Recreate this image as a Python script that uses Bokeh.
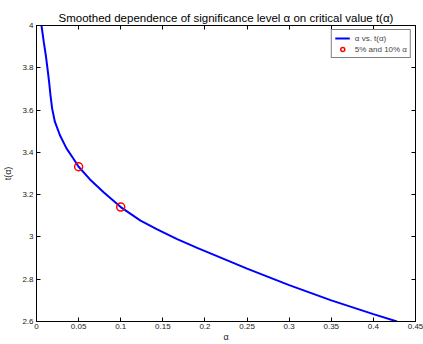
from bokeh.plotting import figure
from bokeh.models import LinearAxis, FixedTicker, Legend, LegendItem, Range1d
from bokeh.embed import file_html
from bokeh.resources import INLINE

# curve data
alpha = [0.0059, 0.0087, 0.0111, 0.0131, 0.0150, 0.0166, 0.0186, 0.0218, 0.0277,
         0.0356, 0.0435, 0.0500, 0.0635, 0.0800, 0.1000, 0.1235, 0.1433, 0.1670,
         0.1908, 0.2165, 0.2500, 0.3000, 0.3500, 0.4000, 0.4280]
t_alpha = [4.000, 3.920, 3.858, 3.795, 3.732, 3.670, 3.607, 3.545, 3.482,
           3.419, 3.372, 3.332, 3.272, 3.210, 3.141, 3.077, 3.036, 2.990,
           2.948, 2.906, 2.850, 2.772, 2.700, 2.635, 2.600]

# marked points
mark_alpha = [0.05, 0.1]
mark_t = [3.332, 3.141]

xticks = [0, 0.05, 0.1, 0.15, 0.2, 0.25, 0.3, 0.35, 0.4, 0.45]
xtick_labels = ["0", "0.05", "0.1", "0.15", "0.2", "0.25", "0.3", "0.35", "0.4", "0.45"]
yticks = [2.6, 2.8, 3.0, 3.2, 3.4, 3.6, 3.8, 4.0]
ytick_labels = ["2.6", "2.8", "3", "3.2", "3.4", "3.6", "3.8", "4"]

FONT = "Liberation Sans"

p = figure(width=423, height=344, output_backend="svg", toolbar_location=None,
           x_range=Range1d(0, 0.45), y_range=Range1d(2.6, 4.0),
           min_border_left=36, min_border_right=8, min_border_top=25, min_border_bottom=20,
           title="Smoothed dependence of significance level \u03b1 on critical value t(\u03b1)")
p.title.text_font = FONT
p.title.text_font_size = "11.5px"
p.title.text_font_style = "normal"
p.title.text_color = "black"
p.title.align = "center"
p.title.standoff = 4
p.background_fill_color = "white"
p.border_fill_color = "white"
p.outline_line_color = "black"
p.outline_line_width = 1
p.xgrid.visible = False
p.ygrid.visible = False

def style_axis(ax, ticks, labels, show_labels=True):
    ax.ticker = FixedTicker(ticks=ticks)
    if show_labels:
        ax.major_label_overrides = {tk: lb for tk, lb in zip(ticks, labels)}
        ax.major_label_text_font_size = "8px"
        ax.major_label_standoff = 3
    else:
        ax.major_label_overrides = {tk: "" for tk in ticks}
        ax.major_label_text_font_size = "8px"
        ax.major_label_standoff = 0
    ax.minor_tick_line_color = None
    ax.major_tick_in = 4
    ax.major_tick_out = 0
    ax.axis_line_color = "black"
    ax.major_tick_line_color = "black"
    ax.major_label_text_font = FONT
    ax.major_label_text_color = "#222222"

style_axis(p.xaxis[0], xticks, xtick_labels)
p.xaxis[0].major_label_standoff = 2
p.xaxis[0].axis_label = "\u03b1"
p.xaxis[0].axis_label_text_font = FONT
p.xaxis[0].axis_label_text_font_size = "9px"
p.xaxis[0].axis_label_text_font_style = "normal"
p.xaxis[0].axis_label_text_color = "#222222"
p.xaxis[0].axis_label_standoff = 0

style_axis(p.yaxis[0], yticks, ytick_labels)
p.yaxis[0].axis_label = "t(\u03b1)"
p.yaxis[0].axis_label_text_font = FONT
p.yaxis[0].axis_label_text_font_size = "9px"
p.yaxis[0].axis_label_text_font_style = "normal"
p.yaxis[0].axis_label_text_color = "#222222"
p.yaxis[0].axis_label_standoff = 6

top_ax = LinearAxis()
style_axis(top_ax, xticks, xtick_labels, show_labels=False)
p.add_layout(top_ax, "above")
right_ax = LinearAxis()
style_axis(right_ax, yticks, ytick_labels, show_labels=False)
p.add_layout(right_ax, "right")

line_r = p.line(alpha, t_alpha, line_color="#0000ff", line_width=2)
pts_r = p.scatter(mark_alpha, mark_t, marker="circle", size=8, fill_color=None,
                  line_color="#ff0000", line_width=1.5)

legend = Legend(items=[LegendItem(label="\u03b1 vs. t(\u03b1)", renderers=[line_r]),
                       LegendItem(label="5% and 10% \u03b1", renderers=[pts_r])],
                location="top_right")
legend.label_text_font = FONT
legend.label_text_font_size = "8px"
legend.label_height = 9
legend.glyph_height = 10
legend.glyph_width = 15
legend.spacing = 1
legend.padding = 3
legend.margin = 4
legend.label_standoff = 5
legend.border_line_color = "black"
legend.border_line_width = 1
legend.background_fill_alpha = 1
p.add_layout(legend)

open("out.html", "w").write(file_html(p, INLINE))
